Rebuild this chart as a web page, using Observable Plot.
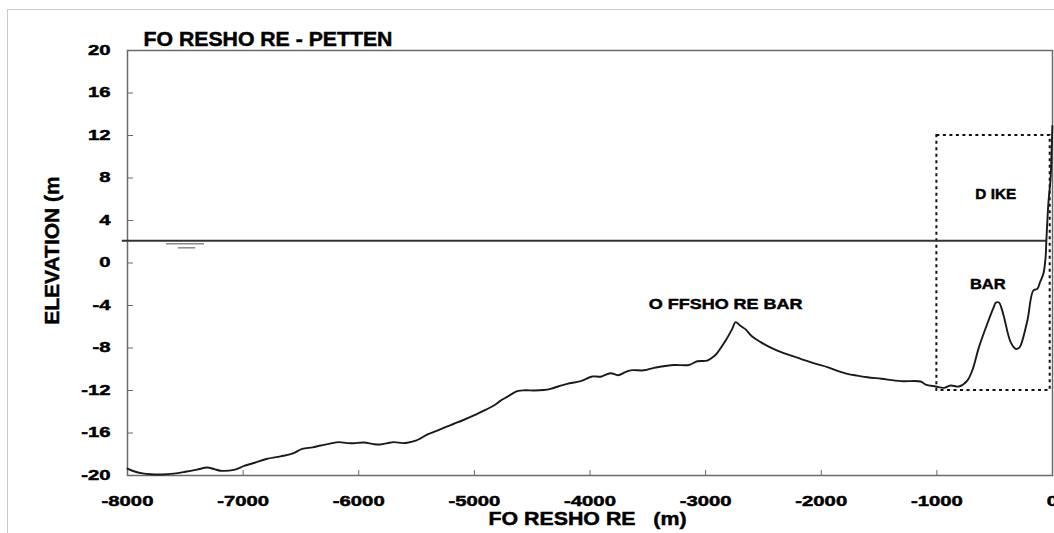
<!DOCTYPE html>
<html><head><meta charset="utf-8">
<script src="https://cdn.jsdelivr.net/npm/d3@7"></script>
<script src="https://cdn.jsdelivr.net/npm/@observablehq/plot@0.6"></script>
<style>
html,body{margin:0;padding:0;background:#fff;overflow:hidden;}
#wrap{position:relative;width:1054px;height:533px;overflow:hidden;}
#border{position:absolute;left:7px;top:9px;width:1200px;height:700px;border-left:1px solid #c9c9c9;border-top:1px solid #c9c9c9;}
#chart{position:absolute;left:0;top:0;}
#chart text{stroke:#000;stroke-width:0.45px;}
</style></head><body>
<div id="wrap"><div id="border"></div><div id="chart"></div></div>
<script>
// ---- data ----
const titleText = "FO RESHO RE - PETTEN";
const xLabelText = "FO RESHO RE\u00a0\u00a0\u00a0(m)";
const yLabelText = "ELEVATION (m";
const xTicks = [-8000, -7000, -6000, -5000, -4000, -3000, -2000, -1000, 0];
const yTicks = [-20, -16, -12, -8, -4, 0, 4, 8, 12, 16, 20];

const profileX = [-8000,-7945,-7870,-7800,-7700,-7600,-7500,-7400,-7310,-7250,-7196,-7080,-6990,-6900,-6800,-6676,-6575,-6489,-6400,-6330,-6250,-6172,-6100,-6042,-5956,-5870,-5811,-5750,-5696,-5620,-5580,-5500,-5465,-5400,-5350,-5250,-5177,-5100,-5004,-4900,-4831,-4773,-4716,-4629,-4560,-4485,-4400,-4341,-4270,-4197,-4081,-3980,-3908,-3822,-3758,-3700,-3649,-3533,-3447,-3350,-3274,-3144,-3072,-2986,-2930,-2899,-2827,-2770,-2741,-2700,-2654,-2600,-2524,-2450,-2380,-2280,-2178,-2060,-1947,-1860,-1774,-1690,-1601,-1480,-1313,-1140,-1097,-1010,-938,-881,-809,-737,-694,-636,-564,-510,-491,-463,-440,-419,-362,-318,-290,-275,-217,-166,-131,-108,-79,-60,-53,-36,-16,-8,-1];
const profileY = [-19.35,-19.6,-19.8,-19.88,-19.9,-19.82,-19.65,-19.45,-19.25,-19.4,-19.55,-19.47,-19.1,-18.8,-18.45,-18.2,-17.95,-17.5,-17.35,-17.18,-17.0,-16.86,-16.95,-16.96,-16.9,-17.05,-17.08,-16.95,-16.86,-16.95,-16.92,-16.7,-16.5,-16.1,-15.9,-15.45,-15.13,-14.8,-14.35,-13.8,-13.41,-12.95,-12.6,-12.06,-11.98,-12.0,-11.95,-11.84,-11.6,-11.37,-11.12,-10.68,-10.7,-10.37,-10.56,-10.3,-10.1,-10.1,-9.87,-9.7,-9.6,-9.6,-9.25,-9.18,-8.8,-8.45,-7.3,-6.2,-5.57,-5.9,-6.25,-6.9,-7.45,-7.9,-8.24,-8.65,-9.02,-9.45,-9.8,-10.15,-10.43,-10.6,-10.75,-10.9,-11.12,-11.15,-11.44,-11.62,-11.75,-11.53,-11.62,-11.06,-10.12,-7.92,-5.72,-4.2,-3.75,-3.72,-4.3,-5.1,-7.45,-8.08,-8.0,-7.76,-5.41,-2.59,-2.43,-1.8,-1.02,0.5,2.12,5.57,8.08,10.5,12.9];

const waterLevel = 2.1;
const waterLineX = [-8045, -50];
const waterSymbolY = [1.81, 1.43];
const waterSymbolX1 = [-7663, -7560];
const waterSymbolX2 = [-7334, -7410];

const boxX = [-1000, -20];
const boxY = [-12, 12];

const annotText = ["O FFSHO RE BAR", "D IKE", "BAR"];
const annotX = [-2827, -491, -560];
const annotY = [-3.9, 6.5, -2.0];
const annotStretch = [1.2, 1.02, 1.1];

// ---- build ----
const profile = profileX.map((x, i) => ({x, y: profileY[i]}));
const symbols = waterSymbolY.map((y, i) => ({y, x1: waterSymbolX1[i], x2: waterSymbolX2[i]}));
const annots = annotText.map((t, i) => ({t, x: annotX[i], y: annotY[i]}));
const box = [{x1: boxX[0], x2: boxX[1], y1: boxY[0], y2: boxY[1]}];

const font = "'Liberation Sans', Arial, sans-serif";
const plot = Plot.plot({
  width: 1054, height: 533,
  marginLeft: 127, marginRight: 2, marginTop: 50, marginBottom: 58,
  x: {domain: [-8000, 0], label: null},
  y: {domain: [-20, 20], label: null},
  style: {fontFamily: font, fontWeight: "bold", fontSize: "14px", color: "#000", background: "transparent", overflow: "visible"},
  marks: [
    Plot.frame({stroke: "#6a6a6a", strokeWidth: 1.5}),
    Plot.axisX(xTicks, {tickSize: -5, tickPadding: 26, stroke: "#6a6a6a", fill: "#000", fontSize: 14, fontWeight: "bold", tickFormat: d => String(d), label: null}),
    Plot.axisY(yTicks, {tickSize: -6, tickPadding: 23, stroke: "#6a6a6a", fill: "#000", fontSize: 14, fontWeight: "bold", tickFormat: d => String(d), label: null}),
    Plot.rect(box, {x1: "x1", x2: "x2", y1: "y1", y2: "y2", fill: "none", stroke: "#111", strokeWidth: 2, strokeDasharray: "3,3.5"}),
    Plot.ruleY([waterLevel], {x1: waterLineX[0], x2: waterLineX[1], stroke: "#333", strokeWidth: 2, clip: false}),
    Plot.ruleY(symbols, {y: "y", x1: "x1", x2: "x2", stroke: "#8a8a8a", strokeWidth: 1.5}),
    Plot.line(profile, {x: "x", y: "y", stroke: "#1a1a1a", strokeWidth: 1.9, curve: "catmull-rom"}),
    Plot.text(annots, {x: "x", y: "y", text: "t", fontSize: 15, fontWeight: "bold", fill: "#000"}),
    Plot.text([titleText], {frameAnchor: "top-left", textAnchor: "start", dx: 16, dy: -18, fontSize: 19.5, fontWeight: "bold", fill: "#000"}),
    Plot.text([xLabelText], {frameAnchor: "bottom", textAnchor: "middle", dx: -2.5, dy: 49, fontSize: 17.5, fontWeight: "bold", fill: "#000"}),
    Plot.text([yLabelText], {frameAnchor: "left", textAnchor: "middle", rotate: -90, dx: -75, dy: -12.5, fontSize: 21, fontWeight: "bold", fill: "#000"})
  ]
});
document.getElementById("chart").appendChild(plot);

// horizontally stretch text to match the reference's wide lettering
function stretchEl(t, s) {
  const old = t.getAttribute("transform") || "";
  const x = parseFloat(t.getAttribute("x")) || 0;
  t.setAttribute("transform", `${old} translate(${x},0) scale(${s},1) translate(${-x},0)`);
}
const stretchByText = new Map([[titleText, 1.09], [xLabelText, 1.22]]);
annotText.forEach((t, i) => stretchByText.set(t, annotStretch[i]));
plot.querySelectorAll("text").forEach(t => {
  const s = t.textContent;
  if (stretchByText.has(s)) stretchEl(t, stretchByText.get(s));
  else if (/^-?\d+$/.test(s)) stretchEl(t, 1.45);
});
</script>
</body></html>
